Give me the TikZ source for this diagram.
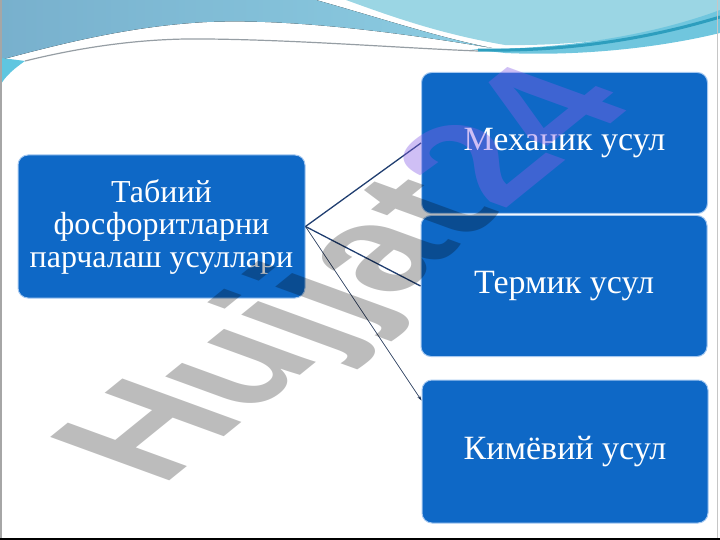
\documentclass[tikz,border=0pt]{standalone}
\usepackage{fontspec}
\setmainfont{Liberation Serif}
\newfontfamily\wmfont{Liberation Sans}
\usetikzlibrary{arrows.meta}

\definecolor{boxblue}{RGB}{14,104,198}
\definecolor{boxedge}{RGB}{165,200,240}
\definecolor{linknavy}{RGB}{32,62,112}
\definecolor{steelband}{RGB}{120,176,205}
\definecolor{steelbandr}{RGB}{140,205,226}
\definecolor{cyanband}{RGB}{155,214,228}
\definecolor{ribbonband}{RGB}{112,198,222}
\definecolor{tealband}{RGB}{45,158,190}
\definecolor{cyanleft}{RGB}{95,198,224}
\definecolor{wavegray}{RGB}{150,158,164}
\definecolor{wmgray}{RGB}{188,188,188}
\definecolor{wmpurple}{RGB}{135,95,230}

\begin{document}
\begin{tikzpicture}[x=1pt,y=-1pt,
    blockbox/.style={draw=boxedge, line width=1pt, fill=boxblue, rounded corners=10pt,
      text=white, align=center, inner sep=0pt},
    methodbox/.style={blockbox, minimum width=286pt, minimum height=141pt,
      font=\fontsize{34}{37}\selectfont},
    link/.style={draw=linknavy, line width=1.3pt},
    wmark/.style={inner sep=0pt, anchor=base west, rotate=39, xslant=-0.6,
      font=\wmfont\bfseries\fontsize{158}{158}\selectfont}]
    \useasboundingbox (0,0) rectangle (720,540);

    % Top wave
    \fill[left color=steelband, right color=steelbandr] (0,0) -- (316,0)
        .. controls (380,18) and (440,38) .. (492,48)
        .. controls (420,36) and (300,18) .. (207,22)
        .. controls (130,26) and (60,44) .. (0,60) -- cycle;
    \fill[cyanband] (346,0) -- (720,0) -- (720,12)
        .. controls (660,36) and (580,46) .. (505,45)
        .. controls (440,34) and (390,16) .. (346,0) -- cycle;
    \fill[ribbonband] (470,49) .. controls (560,50) and (650,36) .. (720,10)
        -- (720,33) .. controls (650,50) and (570,56) .. (505,53) -- cycle;
    \draw[tealband, line width=3pt] (478,50) .. controls (580,52) and (660,35) .. (720,17);
    \fill[cyanleft] (0,58) .. controls (10,59) .. (25,61)
        .. controls (15,68) and (5,76) .. (0,86) -- cycle;
    \draw[wavegray, line width=1.2pt] (25,61) .. controls (90,45) and (150,38) .. (207,39)
        .. controls (300,40) and (400,48) .. (478,51);

    % Root
    \node[blockbox, minimum width=287pt, minimum height=143pt,
        font=\fontsize{32}{32.5}\selectfont] (root) at (161.5,226.5)
        {Табиий\\фосфоритларни\\парчалаш усуллари};

    % Methods
    \node[methodbox] (mech) at (564.5,143) {Механик усул};
    \node[methodbox] (therm) at (564,286) {Термик усул};
    \node[methodbox, minimum height=143pt] (chem) at (565,451.5) {Кимёвий усул};

    % Links
    \draw[link] (root.east) -- (mech.west);
    \draw[link] (root.east) -- (therm.west);
    \coordinate (chemtip) at ([yshift=51pt]chem.west);
    \draw[draw=linknavy!70!black, line width=0.6pt, -{Stealth[length=5pt,width=3pt]}]
        (root.east) -- (chemtip);

    % Watermark
    \begin{scope}[blend mode=multiply]
        \node[wmark, text=wmgray] (wmname) at (161,488) {Hujjat};
    \end{scope}
    \node[wmark, text=wmpurple, text opacity=0.4] (wmnum) at (wmname.base east) {24};

    % Frame
    \draw[gray!70, line width=1.5pt] (1,0) -- (1,540);
    \draw[gray!45, line width=1pt] (717,0) -- (717,540);
    \draw[black, line width=2pt] (0,539) -- (720,539);
\end{tikzpicture}
\end{document}
